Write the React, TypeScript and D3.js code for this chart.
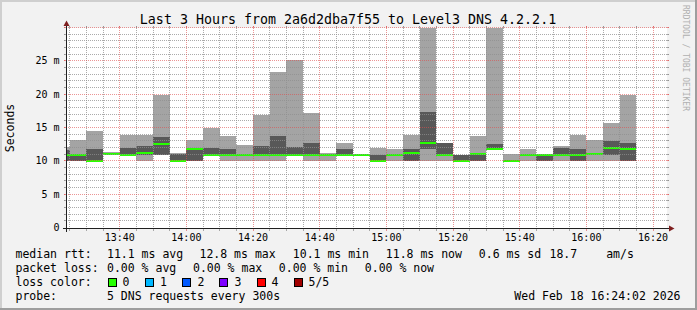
import React from 'react';
import * as d3 from 'd3';

// ---- data (5 pings per 5-minute step, sorted: min, 2nd, median, 4th, max), ms ----
const barStarts = [
  '13:20', '13:25', '13:30', '13:35', '13:40', '13:45', '13:50', '13:55',
  '14:00', '14:05', '14:10', '14:15', '14:20', '14:25', '14:30', '14:35',
  '14:40', '14:45', '14:50', '14:55', '15:00', '15:05', '15:10', '15:15',
  '15:20', '15:25', '15:30', '15:35', '15:40', '15:45', '15:50', '15:55',
  '16:00', '16:05', '16:10',
];
const ping1 = [
  10.0, 10.0, 9.98, 10.95, 10.9, 10.0, 10.9, 9.98,
  10.0, 10.9, 10.0, 10.0, 10.0, 10.0, 10.9, 10.0,
  10.0, 10.9, 10.9, 9.98, 10.0, 10.0, 10.0, 10.0,
  9.98, 10.0, 11.7, 9.98, 10.0, 10.0, 10.0, 10.0,
  10.0, 10.0, 10.0,
];
const ping2 = [
  10.0, 10.0, 10.0, 10.97, 10.9, 10.85, 10.9, 10.0,
  10.0, 10.9, 10.85, 10.9, 10.85, 10.9, 10.9, 10.9,
  10.9, 10.9, 10.9, 10.0, 10.9, 10.0, 11.8, 10.85,
  10.0, 10.0, 11.75, 10.0, 10.85, 10.0, 10.85, 10.0,
  11.05, 10.85, 10.0,
];
const pingMedian = [
  10.9, 10.9, 10.0, 11.0, 10.9, 11.25, 12.55, 10.0,
  11.75, 10.9, 10.9, 10.9, 10.9, 10.9, 10.9, 10.9,
  10.9, 10.9, 10.9, 10.0, 10.9, 11.25, 12.75, 10.9,
  10.0, 11.1, 11.8, 10.0, 10.9, 10.9, 10.9, 10.9,
  11.1, 11.95, 11.8,
];
const ping4 = [
  11.7, 11.0, 11.8, 11.05, 11.9, 12.2, 13.6, 11.0,
  11.8, 11.9, 11.8, 11.0, 12.3, 13.8, 12.1, 12.7,
  11.0, 11.8, 10.95, 10.9, 11.0, 11.8, 17.3, 12.7,
  10.9, 11.15, 12.6, 10.05, 11.0, 11.0, 11.9, 11.8,
  11.15, 13.0, 12.7,
];
const ping5 = [
  12.1, 13.1, 14.5, 11.3, 13.9, 13.9, 19.9, 11.2,
  13.2, 14.9, 13.8, 12.4, 16.9, 23.3, 25.1, 17.2,
  11.2, 12.7, 11.0, 11.9, 11.8, 13.9, 32.0, 12.75,
  10.95, 13.8, 32.0, 11.0, 11.8, 11.05, 12.2, 13.9,
  13.2, 15.7, 19.9,
];

const yTickValues = [0, 5, 10, 15, 20, 25];
const yTickLabels = ['0', '5 m', '10 m', '15 m', '20 m', '25 m'];
const xTickLabels = ['13:40', '14:00', '14:20', '14:40', '15:00', '15:20', '15:40', '16:00', '16:20'];

const titleText = 'Last 3 Hours from 2a6d2dba7f55 to Level3 DNS 4.2.2.1';
const rttLabels = ['11.1 ms avg', '12.8 ms max', '10.1 ms min', '11.8 ms now', '0.6 ms sd', '18.7', 'am/s'];
const lossLabels = ['0.00 % avg', '0.00 % max', '0.00 % min', '0.00 % now'];
const lossColorNames = ['0', '1', '2', '3', '4', '5/5'];
const lossColors = ['#26ff00', '#00b8ff', '#0059ff', '#7e00ff', '#ff0000', '#a10000'];
const probeText = '5 DNS requests every 300s';
const dateText = 'Wed Feb 18 16:24:02 2026';

const FONT = '"DejaVu Sans Mono", monospace';
const W = 697;
const H = 310;
const PL = 66.5, PR = 666.5, PT = 27.5, PB = 227.5;

export default function App() {
  const parse = d3.timeParse('%H:%M:%S');
  const t0 = parse('13:24:02') as Date;
  const t1 = parse('16:24:02') as Date;
  const x = d3.scaleTime().domain([t0, t1]).range([PL, PR]);
  const y = d3.scaleLinear().domain([0, 30]).range([PB, PT]);
  const parseHM = d3.timeParse('%H:%M');

  const bars = barStarts.map((s, i) => {
    const st = parseHM(s) as Date;
    const en = d3.timeMinute.offset(st, 5);
    return {
      x0: Math.max(Math.round(x(st)), 67),
      x1: Math.round(x(en)),
      p1: ping1[i], p2: ping2[i], med: pingMedian[i], p4: ping4[i], p5: ping5[i],
    };
  });

  const minorX = d3.timeMinute.every(5)!.range(t0, t1);
  const minorY = d3.range(1, 31);
  const majorLabelTimes = xTickLabels.map((l) => parseHM(l) as Date);

  const gridMinor = 'rgba(143,143,143,0.75)';
  const gridMajor = 'rgba(222,79,79,0.6)';
  const fy = (v: number) => Math.floor(y(v)) + 0.5;
  const fx = (t: Date) => Math.floor(x(t)) + 0.5;

  const legendX = [107, 199.5, 292.8, 385.8];
  const sqX = [108.5, 145.5, 182.5, 219.5, 257, 294.5];
  const sqLabelX = [122.5, 160, 197.5, 234.5, 271.5, 308.5];

  return (
    <svg width={W} height={H} style={{ position: 'absolute', left: 0, top: 0 }} fontFamily={FONT}>
      <defs>
        <clipPath id="plotClip">
          <rect x={67} y={28} width={600} height={200} />
        </clipPath>
      </defs>
      {/* background + bevel */}
      <rect x={0} y={0} width={W} height={H} fill="#f2f2f2" />
      <rect x={0} y={0} width={W} height={2} fill="#cfcfcf" />
      <rect x={0} y={0} width={2} height={H} fill="#cfcfcf" />
      <rect x={W - 2} y={0} width={2} height={H} fill="#9e9e9e" />
      <rect x={0} y={H - 2} width={W} height={2} fill="#9e9e9e" />

      {/* canvas */}
      <rect x={67} y={28} width={600} height={200} fill="#ffffff" />

      {/* smoke + median */}
      <g clipPath="url(#plotClip)" shapeRendering="crispEdges">
        {bars.map((b, i) => (
          <rect key={'s1' + i} x={b.x0} width={b.x1 - b.x0}
            y={Math.round(y(b.p5))} height={Math.max(0, Math.round(y(b.p1)) - Math.round(y(b.p5)))}
            fill="#a4a4a4" />
        ))}
        {bars.map((b, i) => (
          <rect key={'s2' + i} x={b.x0} width={b.x1 - b.x0}
            y={Math.round(y(b.p4))} height={Math.max(0, Math.round(y(b.p2)) - Math.round(y(b.p4)))}
            fill="#585858" />
        ))}
        {bars.map((b, i) => (
          <rect key={'m' + i} x={b.x0} width={b.x1 - b.x0}
            y={Math.round(y(b.med)) - 1} height={2} fill={lossColors[0]} />
        ))}
      </g>

      {/* grid (drawn on top, semi transparent) */}
      <g strokeWidth={1} shapeRendering="crispEdges">
        {minorY.filter((v) => v % 5 !== 0).map((v) => (
          <g key={'hy' + v}>
            <line x1={64} x2={670} y1={fy(v)} y2={fy(v)} stroke={gridMinor} strokeDasharray="1,1" />
            <line x1={64} x2={67} y1={fy(v)} y2={fy(v)} stroke={gridMinor} />
            <line x1={667} x2={669} y1={fy(v)} y2={fy(v)} stroke={gridMinor} />
          </g>
        ))}
        {minorX.filter((t) => t.getMinutes() % 20 !== 0).map((t, i) => (
          <g key={'vx' + i}>
            <line x1={fx(t)} x2={fx(t)} y1={26} y2={230} stroke={gridMinor} strokeDasharray="1,1" />
            <line x1={fx(t)} x2={fx(t)} y1={26} y2={28} stroke={gridMinor} />
            <line x1={fx(t)} x2={fx(t)} y1={228} y2={231} stroke={gridMinor} />
          </g>
        ))}
        {minorY.filter((v) => v % 5 === 0).map((v) => (
          <g key={'HY' + v}>
            <line x1={64} x2={670} y1={fy(v)} y2={fy(v)} stroke={gridMajor} strokeDasharray="1,1" />
            <line x1={64} x2={67} y1={fy(v)} y2={fy(v)} stroke={gridMajor} />
            <line x1={667} x2={669} y1={fy(v)} y2={fy(v)} stroke={gridMajor} />
          </g>
        ))}
        {majorLabelTimes.map((t, i) => (
          <g key={'VX' + i}>
            <line x1={fx(t)} x2={fx(t)} y1={26} y2={230} stroke={gridMajor} strokeDasharray="1,1" />
            <line x1={fx(t)} x2={fx(t)} y1={26} y2={28} stroke={gridMajor} />
            <line x1={fx(t)} x2={fx(t)} y1={228} y2={231} stroke={gridMajor} />
          </g>
        ))}
      </g>

      {/* axes */}
      <g shapeRendering="crispEdges">
        <line x1={63} x2={671} y1={228.5} y2={228.5} stroke="#1f1f1f" />
        <line x1={66.5} x2={66.5} y1={232} y2={24} stroke="#1f1f1f" />
      </g>
      <polygon points="63.5,26 69.5,26 66.5,20.5" fill="#7f1f1f" />
      <polygon points="669,225.5 669,231.5 674.5,228.5" fill="#7f1f1f" />

      {/* y tick labels */}
      {yTickValues.map((v, i) => (
        <text key={'yl' + i} x={59.5} y={fy(v) + 3.6} fontSize={10} textAnchor="end" fill="#000">
          {yTickLabels[i]}
        </text>
      ))}
      {/* x tick labels */}
      {majorLabelTimes.map((t, i) => (
        <text key={'xl' + i} x={x(t)} y={241} fontSize={10} textAnchor="middle" fill="#000">
          {xTickLabels[i]}
        </text>
      ))}

      {/* title */}
      <text x={348} y={24} fontSize={13.3} textAnchor="middle" fill="#000">{titleText}</text>

      {/* y axis title */}
      <text transform="translate(14,128) rotate(-90)" fontSize={11.5} textAnchor="middle" fill="#000">Seconds</text>

      {/* watermark */}
      <text transform="translate(683,5) rotate(90)" fontSize={8} fill="#b0b0b0">RRDTOOL / TOBI OETIKER</text>

      {/* legend */}
      <g fontSize={11.5} fill="#000" style={{ whiteSpace: 'pre' }}>
        <text x={15.5} y={257.5}>median rtt:</text>
        {rttLabels.slice(0, 4).map((s, i) => (
          <text key={'r' + i} x={legendX[i]} y={257.5}>{s}</text>
        ))}
        <text x={478.8} y={257.5}>{rttLabels[4]}</text>
        <text x={549.5} y={257.5}>{rttLabels[5]}</text>
        <text x={606.2} y={257.5}>{rttLabels[6]}</text>

        <text x={15.5} y={271.5}>packet loss:</text>
        {lossLabels.map((s, i) => (
          <text key={'l' + i} x={[107, 193, 278.8, 364.8][i]} y={271.5}>{s}</text>
        ))}

        <text x={15.5} y={285.5}>loss color:</text>
        {lossColorNames.map((s, i) => (
          <g key={'lc' + i}>
            <rect x={sqX[i]} y={278.5} width={8} height={8} fill={lossColors[i]} stroke="#000" strokeWidth={1} shapeRendering="crispEdges" />
            <text x={sqLabelX[i]} y={285.5}>{s}</text>
          </g>
        ))}

        <text x={15.5} y={299.5}>probe:</text>
        <text x={107} y={299.5}>{probeText}</text>
        <text x={680.5} y={299.5} textAnchor="end">{dateText}</text>
      </g>
    </svg>
  );
}
